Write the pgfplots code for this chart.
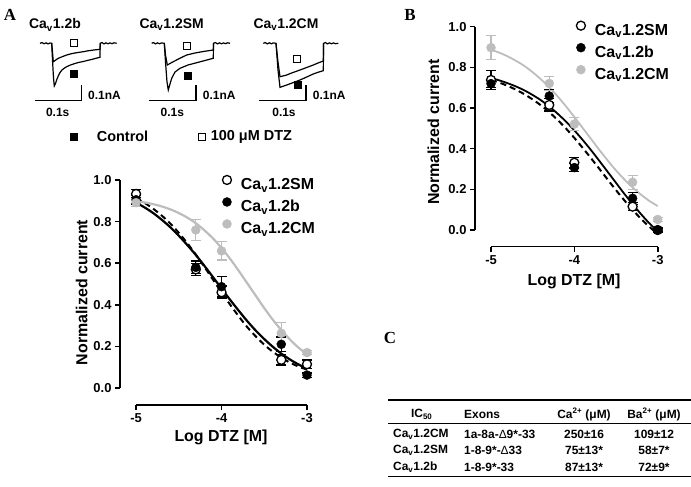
\documentclass[border=0pt]{standalone}
\usepackage{fontspec}
\setmainfont{Liberation Sans}
\newfontfamily\serifbf{Liberation Serif}
\usepackage{pgfplots}
\usepackage{pgfplotstable}
\pgfplotsset{compat=1.18}
\definecolor{pg}{gray}{0.74}

% Panel A data: x y err
\pgfplotstableread{
x y e
-5 0.933 0.02
-4.301 0.57 0.03
-4 0.46 0.03
-3.301 0.135 0.025
-3 0.114 0.02
}\ASM
\pgfplotstableread{
x y e
-5 0.905 0.02
-4.301 0.58 0.03
-4 0.487 0.05
-3.301 0.21 0.035
-3 0.062 0.01
}\Ab
\pgfplotstableread{
x y e
-5 0.891 0.02
-4.301 0.76 0.05
-4 0.659 0.044
-3.301 0.263 0.05
-3 0.17 0.01
}\ACM
% Panel B data
\pgfplotstableread{
x y e
-5 0.738 0.045
-4.301 0.615 0.03
-4 0.331 0.026
-3.301 0.115 0.02
-3 0.0 0.01
}\BSM
\pgfplotstableread{
x y e
-5 0.72 0.02
-4.301 0.659 0.03
-4 0.307 0.02
-3.301 0.156 0.03
-3 0.0 0.01
}\Bb
\pgfplotstableread{
x y e
-5 0.897 0.06
-4.301 0.721 0.035
-4 0.521 0.033
-3.301 0.235 0.035
-3 0.052 0.01
}\BCM

\pgfplotsset{
  smsty/.style={only marks, mark=*, mark size=4.5bp, mark options={fill=white, draw=black, line width=1.3bp},
    error bars/.cd, y dir=both, y explicit, error bar style={black, line width=1.2bp},
    error mark options={black, line width=1.2bp, mark size=5bp, rotate=90}},
  bsty/.style={only marks, mark=*, mark size=4.5bp, mark options={fill=black, draw=black},
    error bars/.cd, y dir=both, y explicit, error bar style={black, line width=1.2bp},
    error mark options={black, line width=1.2bp, mark size=5bp, rotate=90}},
  cmsty/.style={only marks, mark=*, mark size=4.5bp, mark options={fill=pg, draw=pg},
    error bars/.cd, y dir=both, y explicit, error bar style={pg, line width=1.2bp},
    error mark options={pg, line width=1.2bp, mark size=5bp, rotate=90}},
  doseaxis/.style={scale only axis, clip=false, axis line style={draw=none},
    xtick pos=bottom, ytick pos=left, tick align=outside, major tick length=5bp,
    tick style={black, line width=1.6bp},
    xtick={-5,-4,-3}, xticklabels={-5,-4,-3},
    ytick={0,0.2,0.4,0.6,0.8,1.0}, yticklabels={0.0,0.2,0.4,0.6,0.8,1.0},
    tick label style={font=\fontsize{13}{13}\selectfont\bfseries},
    label style={font=\fontsize{16}{16}\selectfont\bfseries},
    xlabel={Log DTZ [M]}, ylabel={Normalized current},
    legend style={draw=none, fill=none, inner sep=0pt, row sep=4bp, anchor=north west,
      nodes={inner sep=0pt, text height=12bp, text depth=4bp, font=\fontsize{16}{16}\selectfont\bfseries}},
    legend cell align=left,
    legend image code/.code={\draw[#1] plot coordinates {(0bp,5.5bp)}; \path[draw=none, fill=none] (-4.5bp,0bp) rectangle (14bp,0.1bp);},
  },
}

\begin{document}
\begin{tikzpicture}
\useasboundingbox (0,0) rectangle (691bp,487bp);

% ---------------- traces (panel A top) ----------------
\begin{axis}[at={(0bp,317bp)}, anchor=south west, scale only axis, width=360bp, height=170bp,
  xmin=0, xmax=360, ymin=0, ymax=170, y dir=reverse, hide axis, clip=false]
% Cav1.2b
\addplot[black, line width=1.2bp] coordinates {(40,43.3)(42,42.6)(44,43.8)(46,42.8)(48,43.9)(50,43.0)(51.7,43.3)(52.5,60)(53.5,78)(54.3,86)(55.5,83.5)(57,79)(58.5,75.5)(60,72.5)(62,70)(64.5,68)(66.7,66.7)(70,65.2)(74,63.8)(78,62.6)(83.3,61.5)(88,60.3)(92,59.4)(96,58.3)(100,57.3)(100.2,43.3)(102,42.6)(104,43.9)(106,42.8)(108,43.8)(110,42.9)(112,43.7)(114,42.8)(116.7,43.3)};
\addplot[black, line width=1.2bp] coordinates {(51.7,43.3)(52.5,52)(53.3,61.7)(54.5,61)(56.7,59.3)(59,58)(62,56.8)(66.7,55)(71,53.8)(76,52.8)(83.3,51.7)(88,50.8)(94,50)(100,49.3)(100.2,43.3)};
% Cav1.2SM
\addplot[black, line width=1.2bp] coordinates {(151.7,43.3)(153.5,42.6)(155.5,43.9)(157.5,42.8)(159.5,43.8)(161.5,42.9)(164.3,43.3)(165.5,62)(167,82)(168.3,90)(170,84)(171.7,78.3)(175,72)(180,68.3)(188,65)(196.7,62.7)(205,60.5)(213.3,58.3)(213.5,43.3)(215.5,42.6)(217.5,43.9)(219.5,42.8)(221.5,43.8)(223.5,42.9)(225.5,43.7)(227.5,42.8)(230,43.3)};
\addplot[black, line width=1.2bp] coordinates {(164.3,43.3)(165.5,55)(167.3,65)(170,63.5)(173.3,61.7)(180,58.2)(186.7,55)(195,53)(204,51.4)(213.3,50)(213.5,43.3)};
% Cav1.2CM
\addplot[black, line width=1.2bp] coordinates {(263.3,43.3)(265.3,42.6)(267.3,43.9)(269.3,42.8)(271.3,43.8)(273.3,42.9)(276,43.3)(278,70)(280,87.3)(283,86.3)(286.7,85)(293,82.7)(300,80)(306.7,77)(313.3,74)(318,72.3)(323.3,70.7)(323.6,43.3)(325.5,42.6)(327.5,43.9)(329.5,42.8)(331.5,43.8)(333.5,42.9)(335.5,43.7)(338.3,43.3)};
\addplot[black, line width=1.2bp] coordinates {(276,43.3)(278,62)(280,76.7)(283,76)(286.7,75)(293,72.5)(300,70)(306.7,67.5)(313.3,65)(318,63)(323.3,61)(323.6,43.3)};
% scale bars
\addplot[black, line width=1.5bp] coordinates {(35,100.7)(81.7,100.7)(81.7,85)};
\addplot[black, line width=1.5bp] coordinates {(149.3,100.7)(196,100.7)(196,85)};
\addplot[black, line width=1.5bp] coordinates {(259.3,100.7)(306,100.7)(306,85)};
% squares
\addplot[only marks, mark=square*, mark size=3.5bp, mark options={fill=white, draw=black, line width=1bp}] coordinates {(74,43.3)(186.7,45.7)(296.7,59)(201.7,136.7)};
\addplot[only marks, mark=square*, mark size=3.5bp, mark options={fill=black, draw=black}] coordinates {(74,74)(187.3,76)(297.7,85)(74,136.7)};
% texts
\begin{scope}[every node/.style={font=\fontsize{14}{14}\selectfont\bfseries, inner sep=0pt}]
\node at (axis cs:55,25) {Ca\textsubscript{v}1.2b};
\node at (axis cs:171.7,25) {Ca\textsubscript{v}1.2SM};
\node at (axis cs:286,25) {Ca\textsubscript{v}1.2CM};
\end{scope}
\begin{scope}[every node/.style={font=\fontsize{12}{12}\selectfont\bfseries, inner sep=0pt}]
\node[anchor=west] at (axis cs:88,95.7) {0.1nA};
\node[anchor=west] at (axis cs:202.7,95.7) {0.1nA};
\node[anchor=west] at (axis cs:312.7,95.7) {0.1nA};
\node at (axis cs:57.7,112.3) {0.1s};
\node at (axis cs:172.3,112.3) {0.1s};
\node at (axis cs:284,112.3) {0.1s};
\end{scope}
\node[anchor=west, inner sep=0pt, font=\fontsize{14.5}{14.5}\selectfont\bfseries] at (axis cs:96.7,136.7) {Control};
\node[anchor=west, inner sep=0pt, font=\fontsize{14.5}{14.5}\selectfont\bfseries] at (axis cs:210.7,136.7) {100 μM DTZ};
\end{axis}

% ---------------- panel A dose-response ----------------
\begin{axis}[doseaxis, at={(120bp,82bp)}, anchor=south west, width=187bp, height=225bp,
  xmin=-5.188, xmax=-3, ymin=-0.082, ymax=1,
  xlabel style={at={(axis description cs:0.54,-0.142)}, anchor=center},
  ylabel style={at={(axis description cs:-0.205,0.5)}, anchor=center},
  legend style={at={(axis description cs:0.547,1.021)}}]
\addplot[forget plot, black, line width=2bp, dashed, dash pattern=on 6bp off 4bp, smooth] coordinates {
(-5.0,0.912)(-4.9,0.890)(-4.8,0.862)(-4.7,0.829)(-4.6,0.791)(-4.5,0.746)(-4.4,0.696)(-4.3,0.641)(-4.2,0.582)(-4.1,0.521)(-4.0,0.460)(-3.9,0.401)(-3.8,0.345)(-3.7,0.293)(-3.6,0.248)(-3.5,0.208)(-3.4,0.174)(-3.3,0.146)(-3.2,0.122)(-3.1,0.103)(-3.0,0.088)};
\addplot[forget plot, black, line width=2.2bp, smooth] coordinates {
(-5.0,0.891)(-4.9,0.868)(-4.8,0.841)(-4.7,0.809)(-4.6,0.773)(-4.5,0.732)(-4.4,0.687)(-4.3,0.639)(-4.2,0.587)(-4.1,0.533)(-4.0,0.478)(-3.9,0.424)(-3.8,0.372)(-3.7,0.322)(-3.6,0.276)(-3.5,0.235)(-3.4,0.198)(-3.3,0.165)(-3.2,0.137)(-3.1,0.113)(-3.0,0.093)};
\addplot[forget plot, pg, line width=2.2bp, smooth] coordinates {
(-5.0,0.899)(-4.9,0.892)(-4.8,0.884)(-4.7,0.873)(-4.6,0.859)(-4.5,0.841)(-4.4,0.819)(-4.3,0.792)(-4.2,0.758)(-4.1,0.719)(-4.0,0.673)(-3.9,0.621)(-3.8,0.564)(-3.7,0.504)(-3.6,0.444)(-3.5,0.384)(-3.4,0.328)(-3.3,0.278)(-3.2,0.233)(-3.1,0.194)(-3.0,0.162)};
\addplot[smsty] table[x=x, y=y, y error=e] {\ASM};
\addlegendentry{Ca\textsubscript{v}1.2SM}
\addplot[bsty] table[x=x, y=y, y error=e] {\Ab};
\addlegendentry{Ca\textsubscript{v}1.2b}
\addplot[cmsty] table[x=x, y=y, y error=e] {\ACM};
\addlegendentry{Ca\textsubscript{v}1.2CM}
\draw[line width=1.6bp] (axis cs:-5,-0.082) -- (axis cs:-3,-0.082);
\draw[line width=1.6bp] (axis cs:-5.188,0) -- (axis cs:-5.188,1);
\end{axis}

% ---------------- panel B dose-response ----------------
\begin{axis}[doseaxis, at={(475bp,240.3bp)}, anchor=south west, width=182.7bp, height=220bp,
  xmin=-5.192, xmax=-3, ymin=-0.082, ymax=1,
  xlabel style={at={(axis description cs:0.542,-0.16)}, anchor=center},
  ylabel style={at={(axis description cs:-0.228,0.52)}, anchor=center},
  legend style={at={(axis description cs:0.554,1.026)}}]
\addplot[forget plot, black, line width=2bp, dashed, dash pattern=on 6bp off 4bp, smooth] coordinates {
(-5.0,0.738)(-4.9,0.725)(-4.8,0.709)(-4.7,0.690)(-4.6,0.668)(-4.5,0.642)(-4.4,0.613)(-4.3,0.579)(-4.2,0.541)(-4.1,0.499)(-4.0,0.453)(-3.9,0.404)(-3.8,0.353)(-3.7,0.301)(-3.6,0.248)(-3.5,0.196)(-3.4,0.146)(-3.3,0.099)(-3.2,0.055)(-3.1,0.016)(-3.0,-0.020)};
\addplot[forget plot, black, line width=1.8bp, smooth] coordinates {
(-5.0,0.747)(-4.9,0.736)(-4.8,0.722)(-4.7,0.706)(-4.6,0.687)(-4.5,0.664)(-4.4,0.638)(-4.3,0.607)(-4.2,0.572)(-4.1,0.533)(-4.0,0.490)(-3.9,0.443)(-3.8,0.393)(-3.7,0.340)(-3.6,0.286)(-3.5,0.232)(-3.4,0.178)(-3.3,0.127)(-3.2,0.078)(-3.1,0.033)(-3.0,-0.007)};
\addplot[forget plot, pg, line width=1.8bp, smooth] coordinates {
(-5.0,0.887)(-4.9,0.872)(-4.8,0.854)(-4.7,0.832)(-4.6,0.807)(-4.5,0.776)(-4.4,0.741)(-4.3,0.701)(-4.2,0.657)(-4.1,0.608)(-4.0,0.556)(-3.9,0.502)(-3.8,0.448)(-3.7,0.394)(-3.6,0.342)(-3.5,0.293)(-3.4,0.249)(-3.3,0.209)(-3.2,0.174)(-3.1,0.143)(-3.0,0.118)};
\addplot[smsty] table[x=x, y=y, y error=e] {\BSM};
\addlegendentry{Ca\textsubscript{v}1.2SM}
\addplot[bsty] table[x=x, y=y, y error=e] {\Bb};
\addlegendentry{Ca\textsubscript{v}1.2b}
\addplot[cmsty] table[x=x, y=y, y error=e] {\BCM};
\addlegendentry{Ca\textsubscript{v}1.2CM}
\draw[line width=1.6bp] (axis cs:-5,-0.082) -- (axis cs:-3,-0.082);
\draw[line width=1.6bp] (axis cs:-5.192,0) -- (axis cs:-5.192,1);
\end{axis}

% ---------------- panel letters ----------------
\node[anchor=center, font=\fontsize{17}{17}\selectfont\serifbf\bfseries] at (10bp,472bp) {A};
\node[anchor=center, font=\fontsize{17}{17}\selectfont\serifbf\bfseries] at (410bp,472bp) {B};
\node[anchor=center, font=\fontsize{17}{17}\selectfont\serifbf\bfseries] at (390bp,149bp) {C};

% ---------------- panel C table ----------------
\draw[line width=1.4bp] (388bp,87bp) -- (691bp,87bp);
\draw[line width=0.8bp] (388bp,64bp) -- (691bp,64bp);
\draw[line width=1.4bp] (388bp,10.5bp) -- (691bp,10.5bp);
\begin{scope}[every node/.style={font=\fontsize{12}{12}\selectfont\bfseries, inner sep=0pt}]
\node at (421.7bp,72.5bp) {IC\textsubscript{50}};
\node[anchor=west] at (464bp,72.5bp) {Exons};
\node at (584bp,72.5bp) {Ca\textsuperscript{2+} (μM)};
\node at (654bp,72.5bp) {Ba\textsuperscript{2+} (μM)};
\node[anchor=west] at (393bp,53bp) {Ca\textsubscript{v}1.2CM};
\node[anchor=west] at (464bp,53bp) {1a-8a-{\mdseries Δ}9*-33};
\node at (584bp,53bp) {250±16};
\node at (654bp,53bp) {109±12};
\node[anchor=west] at (393bp,36.3bp) {Ca\textsubscript{v}1.2SM};
\node[anchor=west] at (464bp,36.3bp) {1-8-9*-{\mdseries Δ}33};
\node at (584bp,36.3bp) {75±13*};
\node at (654bp,36.3bp) {58±7*};
\node[anchor=west] at (393bp,19.6bp) {Ca\textsubscript{v}1.2b};
\node[anchor=west] at (464bp,19.6bp) {1-8-9*-33};
\node at (584bp,19.6bp) {87±13*};
\node at (654bp,19.6bp) {72±9*};
\end{scope}
\end{tikzpicture}
\end{document}
